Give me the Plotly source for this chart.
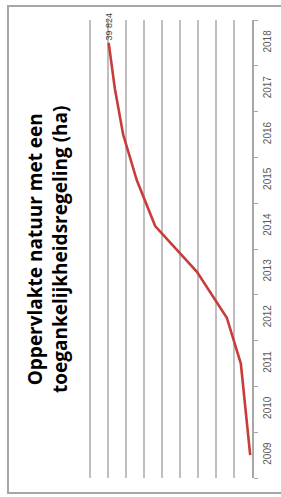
import plotly.graph_objects as go

years = ["2009", "2010", "2011", "2012", "2013", "2014", "2015", "2016", "2017", "2018"]
area_ha = [500, 1900, 3100, 7000, 15300, 26900, 32000, 35800, 38100, 39824]
last_label = "39 824"
title_text = "Oppervlakte natuur met een<br>toegankelijkheidsregeling (ha)"

fig = go.Figure()
fig.add_trace(go.Scatter(
    x=area_ha, y=years, mode="lines",
    line=dict(color="#C93C3A", width=2.6),
    hoverinfo="skip", showlegend=False,
))

fig.update_layout(
    width=281, height=497,
    margin=dict(l=85, r=29, t=20, b=19, autoexpand=False),
    paper_bgcolor="white", plot_bgcolor="white",
    font=dict(family="Liberation Sans, Arial, sans-serif"),
    xaxis=dict(
        range=[46400, 0], tickvals=[5000, 10000, 15000, 20000, 25000, 30000, 35000, 40000, 45000],
        showgrid=True, gridcolor="#bfbfbf", gridwidth=2,
        showticklabels=False, zeroline=False, showline=False, ticks="", automargin=False,
    ),
    yaxis=dict(
        type="category", categoryorder="array", categoryarray=years,
        range=[-0.5, 9.5], side="right", showgrid=False, zeroline=False,
        showline=True, linecolor="#a6a6a6", linewidth=1.5,
        ticks="outside", tickson="boundaries", ticklen=4, tickcolor="#a6a6a6",
        ticklabelstandoff=5,
        tickangle=-90, tickfont=dict(size=10, color="#595959"), automargin=False,
    ),
    annotations=[
        dict(x=39824, y=0.985, xref="x", yref="paper", text=last_label, showarrow=False,
             textangle=-90, xanchor="center", yanchor="middle",
             font=dict(size=9, color="#404040")),
        dict(x=-0.2275, y=0.5, xref="paper", yref="paper", text="<b>" + title_text + "</b>",
             showarrow=False, textangle=-90, align="center", xanchor="center", yanchor="middle",
             font=dict(size=19, color="black", family="Open Sans, sans-serif")),
    ],
    shapes=[
        dict(type="rect", xref="paper", yref="paper", x0=-0.461, x1=1.4, y0=-0.0328, y1=1.0306,
             line=dict(color="#a6a6a6", width=2), layer="below"),
    ],
)

fig.write_html("out.html", config={"displayModeBar": False},
               post_script="document.body.style.margin='0';document.body.style.overflow='hidden';")
